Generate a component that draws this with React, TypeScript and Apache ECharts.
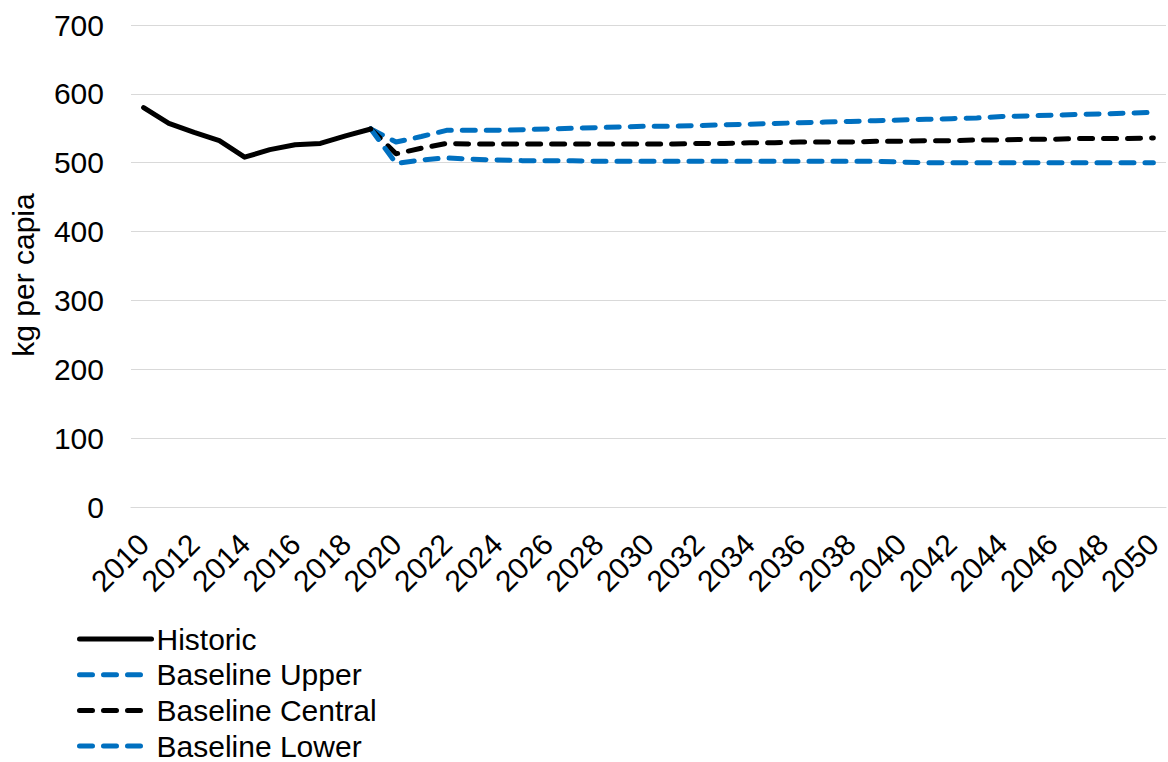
import React, { useEffect, useRef } from "react";
import * as echarts from "echarts";

const years: string[] = [
  "2010", "2011", "2012", "2013", "2014", "2015", "2016", "2017", "2018", "2019",
  "2020", "2021", "2022", "2023", "2024", "2025", "2026", "2027", "2028", "2029",
  "2030", "2031", "2032", "2033", "2034", "2035", "2036", "2037", "2038", "2039",
  "2040", "2041", "2042", "2043", "2044", "2045", "2046", "2047", "2048", "2049",
  "2050",
];

// 2010–2019
const historic: number[] = [580, 557, 544, 532, 508, 519, 526, 528, 539, 549];

// 2019–2050
const baselineUpper: number[] = [
  549, 530, 538, 547, 547, 547, 548, 549, 550, 551, 552, 553, 553, 554, 555, 556,
  557, 558, 559, 560, 561, 562, 563, 564, 565, 567, 568, 569, 570, 571, 572, 573,
];
const baselineCentral: number[] = [
  549, 513, 521, 528, 527, 527, 527, 527, 527, 527, 527, 527, 527, 528, 528, 529,
  529, 530, 530, 530, 531, 531, 532, 532, 533, 533, 534, 534, 535, 535, 535, 536,
];
const baselineLower: number[] = [
  549, 499, 504, 507, 505, 504, 503, 503, 503, 502, 502, 502, 502, 502, 502, 502,
  502, 502, 502, 502, 502, 501, 500, 500, 500, 500, 500, 500, 500, 500, 500, 500,
];

const yTicks = { min: 0, max: 700, interval: 100 };

const FONT = "'Liberation Sans', Arial, sans-serif";
const BLUE = "#0070C0";
const LW = 5;

function padStart(vals: number[], startYear: string): (number | null)[] {
  const idx = years.indexOf(startYear);
  return years.map((_, i) => (i >= idx && i - idx < vals.length ? vals[i - idx] : null));
}

export default function App() {
  const ref = useRef<HTMLDivElement>(null);
  useEffect(() => {
    if (!ref.current) return;
    const chart = echarts.init(ref.current, undefined, { renderer: "svg" });
    const dashed = (color: string) => ({
      color,
      width: LW,
      type: [13, 11] as any,
      cap: "round" as const,
      join: "round" as const,
    });
    chart.setOption({
      animation: false,
      backgroundColor: "#fff",
      textStyle: { fontFamily: FONT },
      grid: { left: 128, right: 2, top: 25, bottom: 255, containLabel: false },
      xAxis: {
        type: "category",
        data: years,
        boundaryGap: true,
        axisLine: { show: true, lineStyle: { color: "#d9d9d9", width: 1.2 } },
        axisTick: { show: false },
        axisLabel: {
          interval: 1,
          rotate: 45,
          margin: 32,
          fontSize: 30,
          color: "#000",
          fontFamily: FONT,
        },
      },
      yAxis: {
        type: "value",
        min: yTicks.min,
        max: yTicks.max,
        interval: yTicks.interval,
        name: "kg per capia",
        nameLocation: "middle",
        nameGap: 93,
        nameTextStyle: { fontSize: 30, color: "#000", fontFamily: FONT, padding: [0, 18, 0, 0] },
        axisLine: { show: false },
        axisTick: { show: false },
        axisLabel: { fontSize: 30, color: "#000", margin: 27, fontFamily: FONT },
        splitLine: { lineStyle: { color: "#d9d9d9", width: 1.2 } },
      },
      legend: {
        orient: "vertical",
        left: 77,
        top: 624,
        height: 220,
        padding: 0,
        itemWidth: 72,
        itemHeight: 10,
        itemGap: 5.7,
        itemStyle: { opacity: 0 },
        lineStyle: { width: LW },
        textStyle: {
          fontSize: 30,
          lineHeight: 30,
          color: "#000",
          fontFamily: FONT,
        },
        data: ["Historic", "Baseline Upper", "Baseline Central", "Baseline Lower"],
      },
      series: [
        {
          name: "Historic",
          type: "line",
          data: padStart(historic, "2010"),
          symbol: "none",
          showSymbol: false,
          lineStyle: { color: "#000", width: LW, cap: "round", join: "round" },
          itemStyle: { color: "#000" },
          z: 5,
        },
        {
          name: "Baseline Upper",
          type: "line",
          data: padStart(baselineUpper, "2019"),
          symbol: "none",
          showSymbol: false,
          lineStyle: dashed(BLUE),
          itemStyle: { color: BLUE },
        },
        {
          name: "Baseline Central",
          type: "line",
          data: padStart(baselineCentral, "2019"),
          symbol: "none",
          showSymbol: false,
          lineStyle: dashed("#000"),
          itemStyle: { color: "#000" },
        },
        {
          name: "Baseline Lower",
          type: "line",
          data: padStart(baselineLower, "2019"),
          symbol: "none",
          showSymbol: false,
          lineStyle: dashed(BLUE),
          itemStyle: { color: BLUE },
        },
      ],
    });
    return () => chart.dispose();
  }, []);
  return (
    <div
      ref={ref}
      style={{ position: "fixed", left: 0, top: 0, width: 1168, height: 762, background: "#fff" }}
    />
  );
}
